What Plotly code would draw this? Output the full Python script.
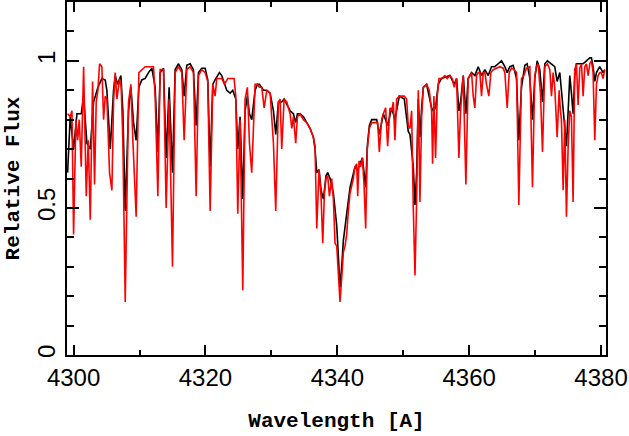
import plotly.graph_objects as go

# Observed spectrum (black)
wl_obs = [4299.09, 4299.49, 4300.00, 4300.51, 4301.16, 4301.52, 4302.02, 4302.53, 4303.03, 4303.69,
          4304.29, 4304.80, 4305.05, 4305.56, 4306.06, 4306.31, 4306.67, 4307.17, 4307.47, 4307.83,
          4308.33, 4308.69, 4309.09, 4309.49, 4309.90, 4310.35, 4310.86, 4311.36, 4311.87, 4312.37,
          4312.78, 4313.13, 4313.64, 4314.04, 4314.49, 4315.00, 4315.40, 4315.91, 4316.41, 4316.77,
          4317.17, 4317.68, 4318.18, 4318.59, 4318.94, 4319.44, 4319.95, 4320.35, 4320.71, 4321.11,
          4321.46, 4322.12, 4322.47, 4322.88, 4323.23, 4323.74, 4324.14, 4324.60, 4324.90, 4325.25,
          4325.66, 4326.01, 4326.36, 4326.67, 4327.02, 4327.53, 4327.88, 4328.19, 4328.80, 4329.30,
          4329.81, 4330.31, 4330.66, 4331.07, 4331.57, 4331.93, 4332.33, 4332.84, 4333.34, 4333.69,
          4333.95, 4334.35, 4334.86, 4335.36, 4335.87, 4336.37, 4336.62, 4336.88, 4337.23, 4337.53,
          4337.89, 4338.29, 4338.54, 4338.90, 4339.40, 4339.91, 4340.16, 4340.41, 4340.66, 4340.92,
          4341.42, 4341.93, 4342.68, 4343.09, 4343.80, 4344.30, 4344.55, 4344.86, 4345.21, 4345.97,
          4346.37, 4346.98, 4347.63, 4348.24, 4348.74, 4349.40, 4350.16, 4350.76, 4351.02, 4351.52,
          4351.78, 4352.03, 4352.28, 4352.53, 4352.79, 4353.04, 4353.54, 4354.30, 4354.55, 4354.90,
          4355.31, 4355.81, 4357.08, 4357.73, 4358.09, 4358.44, 4358.69, 4359.10, 4359.50, 4359.85,
          4360.36, 4360.86, 4361.37, 4361.87, 4362.38, 4362.88, 4363.39, 4363.89, 4364.40, 4364.90,
          4365.41, 4365.76, 4366.17, 4366.67, 4367.18, 4367.53, 4367.93, 4368.44, 4368.79, 4369.20,
          4369.60, 4369.95, 4370.31, 4370.71, 4371.12, 4371.47, 4371.87, 4372.48, 4372.98, 4373.34,
          4373.74, 4373.99, 4374.35, 4374.75, 4375.01, 4375.26, 4375.51, 4375.76, 4376.01, 4376.27,
          4376.77, 4377.28, 4377.78, 4378.29, 4378.54, 4378.79, 4379.05, 4379.30, 4379.80, 4380.30,
          4380.56]
flux_obs = [0.62, 0.81, 0.70, 0.82, 0.82, 0.88, 0.72, 0.70, 0.86, 0.91,
            0.94, 0.935, 0.90, 0.70, 0.90, 0.95, 0.92, 0.95, 0.83, 0.49,
            0.83, 0.91, 0.79, 0.73, 0.91, 0.935, 0.94, 0.96, 0.975, 0.91,
            0.69, 0.96, 0.975, 0.67, 0.91, 0.62, 0.97, 0.99, 0.97, 0.88,
            0.985, 0.99, 0.97, 0.78, 0.96, 0.975, 0.975, 0.935, 0.64, 0.92,
            0.935, 0.96, 0.95, 0.92, 0.90, 0.89, 0.90, 0.87, 0.70, 0.81,
            0.53, 0.83, 0.88, 0.82, 0.80, 0.90, 0.92, 0.92, 0.90, 0.90,
            0.89, 0.83, 0.75, 0.86, 0.86, 0.87, 0.85, 0.83, 0.82, 0.79,
            0.82, 0.82, 0.81, 0.79, 0.77, 0.74, 0.70, 0.62, 0.63, 0.56,
            0.53, 0.61, 0.62, 0.60, 0.55, 0.44, 0.32, 0.23, 0.30, 0.39,
            0.48, 0.57, 0.64, 0.63, 0.67, 0.57, 0.71, 0.78, 0.80, 0.80,
            0.75, 0.82, 0.78, 0.84, 0.80, 0.88, 0.87, 0.76, 0.75, 0.64,
            0.51, 0.62, 0.87, 0.74, 0.84, 0.91, 0.92, 0.84, 0.83, 0.84,
            0.92, 0.94, 0.95, 0.92, 0.94, 0.83, 0.86, 0.95, 0.82, 0.94,
            0.96, 0.95, 0.98, 0.95, 0.97, 0.95, 0.98, 0.98, 0.99, 1.00,
            0.98, 0.96, 0.98, 0.985, 0.94, 0.73, 0.91, 0.985, 0.99, 0.94,
            0.80, 0.94, 1.00, 0.97, 0.86, 0.99, 1.00, 0.99, 0.98, 0.93,
            0.96, 0.90, 0.81, 0.71, 0.83, 0.95, 0.89, 0.82, 0.95, 0.99,
            0.99, 0.99, 1.00, 1.01, 1.01, 0.98, 0.93, 0.96, 0.98, 0.96,
            0.97]

# Model spectrum (red)
wl_mod = [4299.09, 4299.49, 4299.75, 4300.00, 4300.35, 4300.61, 4300.86, 4301.16, 4301.52, 4301.92,
          4302.22, 4302.53, 4302.88, 4303.18, 4303.43, 4303.69, 4303.94, 4304.29, 4304.55, 4304.80,
          4305.05, 4305.45, 4305.81, 4306.06, 4306.31, 4306.57, 4306.97, 4307.22, 4307.47, 4307.83,
          4308.33, 4308.69, 4308.99, 4309.49, 4309.90, 4310.35, 4310.86, 4311.36, 4312.12, 4312.37,
          4312.78, 4313.13, 4313.64, 4314.04, 4314.49, 4315.00, 4315.40, 4315.91, 4316.41, 4316.77,
          4317.17, 4317.68, 4318.18, 4318.59, 4318.94, 4319.44, 4319.95, 4320.35, 4320.71, 4321.11,
          4321.46, 4321.72, 4322.12, 4322.47, 4322.88, 4323.38, 4323.99, 4324.34, 4324.60, 4324.90,
          4325.25, 4325.66, 4326.01, 4326.36, 4326.67, 4327.02, 4327.53, 4327.88, 4328.19, 4328.54,
          4328.90, 4329.30, 4329.81, 4330.31, 4330.66, 4331.07, 4331.32, 4331.57, 4331.93, 4332.33,
          4332.84, 4333.09, 4333.34, 4333.69, 4333.95, 4334.35, 4334.86, 4335.36, 4335.87, 4336.37,
          4336.62, 4336.88, 4337.23, 4337.53, 4337.79, 4338.04, 4338.29, 4338.54, 4338.80, 4339.15,
          4339.40, 4339.65, 4339.91, 4340.16, 4340.41, 4340.66, 4340.92, 4341.17, 4341.42, 4341.67,
          4341.93, 4342.43, 4342.68, 4342.94, 4343.09, 4343.29, 4343.54, 4343.80, 4344.05, 4344.30,
          4344.55, 4344.86, 4345.21, 4345.72, 4346.12, 4346.37, 4346.72, 4346.98, 4347.33, 4347.63,
          4347.99, 4348.24, 4348.49, 4348.74, 4349.00, 4349.40, 4349.75, 4350.16, 4350.51, 4350.76,
          4351.02, 4351.27, 4351.52, 4351.78, 4352.03, 4352.28, 4352.53, 4352.79, 4353.04, 4353.54,
          4353.94, 4354.30, 4354.45, 4354.65, 4354.90, 4355.16, 4355.41, 4355.81, 4356.32, 4356.67,
          4357.08, 4357.43, 4357.73, 4358.09, 4358.44, 4358.69, 4359.10, 4359.50, 4359.85, 4360.11,
          4360.36, 4360.61, 4360.86, 4361.12, 4361.37, 4361.62, 4361.87, 4362.13, 4362.38, 4362.63,
          4362.98, 4363.29, 4363.64, 4364.15, 4364.65, 4365.16, 4365.41, 4365.76, 4366.07, 4366.42,
          4366.82, 4367.18, 4367.53, 4367.93, 4368.29, 4368.69, 4369.20, 4369.60, 4369.95, 4370.21,
          4370.46, 4370.81, 4371.12, 4371.47, 4371.87, 4372.23, 4372.48, 4372.73, 4372.98, 4373.34,
          4373.64, 4373.84, 4373.99, 4374.25, 4374.50, 4374.75, 4375.01, 4375.26, 4375.51, 4375.76,
          4376.01, 4376.27, 4376.52, 4376.77, 4377.03, 4377.28, 4377.53, 4377.78, 4378.04, 4378.29,
          4378.54, 4378.79, 4379.05, 4379.30, 4379.55, 4379.80, 4380.05, 4380.30, 4380.56]
flux_mod = [0.82, 0.81, 0.83, 0.41, 0.80, 0.73, 0.80, 0.64, 0.98, 0.54,
            0.73, 0.46, 0.93, 0.58, 0.86, 0.90, 0.99, 0.98, 0.80, 0.88,
            0.87, 0.62, 0.56, 0.86, 0.96, 0.87, 0.94, 0.91, 0.73, 0.18,
            0.86, 0.92, 0.73, 0.47, 0.96, 0.97, 0.98, 0.98, 0.98, 0.88,
            0.54, 0.97, 0.97, 0.50, 0.87, 0.30, 0.96, 0.98, 0.96, 0.73,
            0.97, 0.98, 0.96, 0.54, 0.95, 0.97, 0.96, 0.93, 0.49, 0.92,
            0.88, 0.94, 0.94, 0.94, 0.92, 0.94, 0.94, 0.94, 0.88, 0.48,
            0.80, 0.22, 0.87, 0.91, 0.72, 0.62, 0.92, 0.92, 0.91, 0.91,
            0.84, 0.90, 0.89, 0.72, 0.49, 0.86, 0.87, 0.70, 0.87, 0.86,
            0.82, 0.77, 0.81, 0.72, 0.81, 0.82, 0.80, 0.79, 0.77, 0.74,
            0.71, 0.43, 0.63, 0.54, 0.38, 0.55, 0.60, 0.61, 0.54, 0.60,
            0.53, 0.38, 0.37, 0.28, 0.18, 0.26, 0.35, 0.37, 0.41, 0.49,
            0.55, 0.60, 0.64, 0.65, 0.54, 0.66, 0.64, 0.67, 0.58, 0.43,
            0.70, 0.77, 0.79, 0.79, 0.79, 0.69, 0.80, 0.82, 0.84, 0.71,
            0.84, 0.83, 0.86, 0.73, 0.87, 0.88, 0.88, 0.88, 0.87, 0.78,
            0.77, 0.83, 0.50, 0.27, 0.53, 0.90, 0.52, 0.81, 0.91, 0.92,
            0.90, 0.83, 0.65, 0.88, 0.67, 0.88, 0.94, 0.94, 0.95, 0.94,
            0.95, 0.94, 0.91, 0.94, 0.67, 0.83, 0.95, 0.58, 0.94, 0.95,
            0.96, 0.88, 0.84, 0.95, 0.96, 0.96, 0.88, 0.96, 0.96, 0.92,
            0.88, 0.96, 0.97, 0.975, 0.98, 0.975, 0.96, 0.84, 0.96, 0.975,
            0.97, 0.96, 0.51, 0.94, 0.95, 0.975, 0.98, 0.57, 0.95, 0.98,
            0.99, 0.89, 0.69, 0.98, 0.99, 0.97, 0.88, 0.96, 0.91, 0.74,
            0.90, 0.83, 0.80, 0.56, 0.80, 0.47, 0.71, 0.83, 0.81, 0.52,
            0.97, 0.99, 0.85, 0.975, 0.99, 0.88, 0.98, 0.99, 0.95, 0.99,
            1.00, 0.96, 0.73, 0.92, 0.95, 0.96, 0.96, 0.94, 0.97]

x_tickvals = [4300, 4320, 4340, 4360, 4380]
y_tickvals = [0, 0.5, 1]
y_ticktext = ["0", "0.5", "1"]

fig = go.Figure()
fig.add_trace(go.Scatter(x=wl_obs, y=flux_obs, mode="lines",
                         line=dict(color="black", width=1.6), showlegend=False))
fig.add_trace(go.Scatter(x=wl_mod, y=flux_mod, mode="lines",
                         line=dict(color="#ff0000", width=1.6), showlegend=False))

title_font = dict(family="Liberation Mono", size=21, color="black")
tick_font = dict(family="Liberation Sans", size=24, color="black")

fig.update_layout(
    width=629, height=436,
    margin=dict(l=67, r=23, t=2, b=81, autoexpand=False),
    paper_bgcolor="white", plot_bgcolor="white",
    xaxis=dict(range=[4299.0, 4380.75], tickvals=x_tickvals, ticks="inside", ticklen=10,
               tickwidth=1.5, tickcolor="black", showline=True, linecolor="black", linewidth=2,
               mirror="ticks", showgrid=False, zeroline=False, tickfont=tick_font,
               minor=dict(dtick=10, tick0=4300, ticks="inside", ticklen=5, tickwidth=1.5,
                          tickcolor="black", showgrid=False),
               title=dict(text="<b>Wavelength [A]</b>", font=title_font, standoff=23)),
    yaxis=dict(range=[0, 1.2], tickvals=y_tickvals, ticktext=y_ticktext, ticks="inside",
               ticklen=12, tickwidth=1.5, tickcolor="black", showline=True, linecolor="black",
               linewidth=2, mirror="ticks", showgrid=False, zeroline=False, tickfont=tick_font,
               tickangle=-90,
               minor=dict(dtick=0.1, tick0=0, ticks="inside", ticklen=7, tickwidth=1.5,
                          tickcolor="black", showgrid=False),
               title=dict(text="<b>Relative Flux</b>", font=title_font, standoff=8)),
)

fig.write_html("out.html", config={"displayModeBar": False},
               post_script="document.body.style.margin='0';")
